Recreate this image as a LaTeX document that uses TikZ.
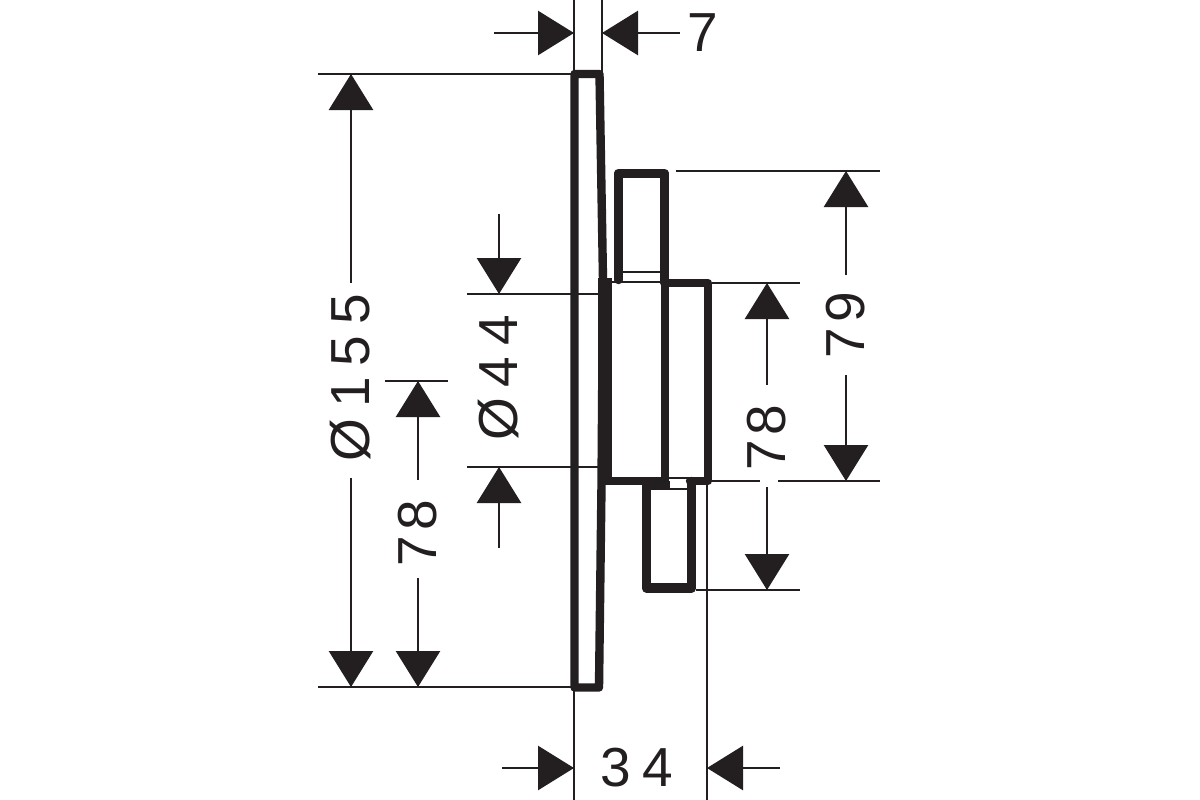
\documentclass[tikz,border=0pt]{standalone}
\usepackage{fontspec}
\setmainfont{Liberation Sans}
\usetikzlibrary{arrows.meta}
\definecolor{ink}{HTML}{231F20}
\tikzset{
  part/.style={draw=ink,line width=8.4pt,line join=round,line cap=round},
  fine/.style={draw=ink,line width=2.2pt},
  ext/.style={draw=ink,line width=2.5pt},
  dim/.style={draw=ink,line width=2.7pt,-{Triangle[length=36pt,width=44pt,sep=0pt]}},
  lab/.style={text=ink,font=\fontsize{55}{55}\selectfont,inner sep=0pt},
  labr/.style={lab,rotate=90}
}
\newcommand{\tightsp}{\spaceskip=11pt\relax}
\begin{document}
\begin{tikzpicture}[x=1pt,y=-1pt]
\useasboundingbox[fill=white] (0,0) rectangle (1200,800);
% extension lines
\foreach \n/\xa/\ya/\xb/\yb in {
 e1/574/0/574/72, e2/602/0/602/72,
 e3/318/74/572/74, e4/318/687/572/687,
 e5/467/294/606/294, e6/467/467/606/467,
 e7/676/171/880/171, e8/712/283/800/283,
 e9/705/481/760/481, e10/778/481/880/481,
 e11/696/590/800/590, e12/574/688/574/800,
 e13/707/483/707/800, e14/385/381/448/381}{
  \coordinate (\n a) at (\xa,\ya);
  \coordinate (\n b) at (\xb,\yb);
  \draw[ext] (\n a) -- (\n b);
}
% plate
\draw[part] (574.5,74) -- (574.5,687.5) -- (599,687.5) -- (601.5,485) -- (603,280) -- (599.5,74) -- cycle;
\fill[ink] (598,278) rectangle (612,485);
% upper stem
\draw[part] (618.5,280) -- (618.5,173) -- (664.5,173) -- (664.5,283);
\draw[fine] (620,177) -- (663,177);
\draw[fine] (620,272) -- (663,272);
\draw[fine] (610,282) -- (663,282);
% body
\draw[part] (665,283) -- (708,283) -- (708,481) -- (690,481);
\draw[part] (605,481) -- (665,481) -- (665,283);
\draw[fine] (668,478) -- (692,478);
% lower stem
\draw[part] (646.5,484) -- (646.5,588.5) -- (691.5,588.5) -- (691.5,481);
\draw[fine] (650,489) -- (688,489);
\draw[fine] (650,584) -- (688,584);
\fill[ink] (643,481) rectangle (670,489);
% dimension 7
\coordinate (d7a) at (494,33); \coordinate (d7b) at (574,33);
\coordinate (d7c) at (680,33); \coordinate (d7d) at (602,33);
\draw[dim] (d7a) -- (d7b); \draw[dim] (d7c) -- (d7d);
\node[lab] (t7) at (703,33) {7};
% dimension 155
\coordinate (d155a) at (351,283); \coordinate (d155b) at (351,74);
\coordinate (d155c) at (351,478); \coordinate (d155d) at (351,687);
\draw[dim] (d155a) -- (d155b); \draw[dim] (d155c) -- (d155d);
\node[labr] (t155) at (351,378) {\tightsp Ø 1 5 5};
% dimension 78 left
\coordinate (d78a) at (418,480); \coordinate (d78b) at (418,381);
\coordinate (d78c) at (418,578); \coordinate (d78d) at (418,687);
\draw[dim] (d78a) -- (d78b); \draw[dim] (d78c) -- (d78d);
\node[labr] (t78l) at (418,533) {7\kern5pt 8};
% dimension 44
\coordinate (d44a) at (499,214); \coordinate (d44b) at (499,294);
\coordinate (d44c) at (499,548); \coordinate (d44d) at (499,467);
\draw[dim] (d44a) -- (d44b); \draw[dim] (d44c) -- (d44d);
\node[labr] (t44) at (499,378) {\tightsp Ø 4 4};
% dimension 78 right
\coordinate (r78a) at (767,385); \coordinate (r78b) at (767,283);
\coordinate (r78c) at (767,487); \coordinate (r78d) at (767,590);
\draw[dim] (r78a) -- (r78b); \draw[dim] (r78c) -- (r78d);
\node[labr] (t78r) at (767,437.5) {7\kern5pt 8};
% dimension 79
\coordinate (d79a) at (846,275); \coordinate (d79b) at (846,171);
\coordinate (d79c) at (846,375); \coordinate (d79d) at (846,481);
\draw[dim] (d79a) -- (d79b); \draw[dim] (d79c) -- (d79d);
\node[labr] (t79) at (846,325) {7\kern5pt 9};
% dimension 34
\coordinate (d34a) at (502,768); \coordinate (d34b) at (574,768);
\coordinate (d34c) at (780,768); \coordinate (d34d) at (707,768);
\draw[dim] (d34a) -- (d34b); \draw[dim] (d34c) -- (d34d);
\node[lab] (t34) at (637,768) {\tightsp 3 4};
\end{tikzpicture}
\end{document}
